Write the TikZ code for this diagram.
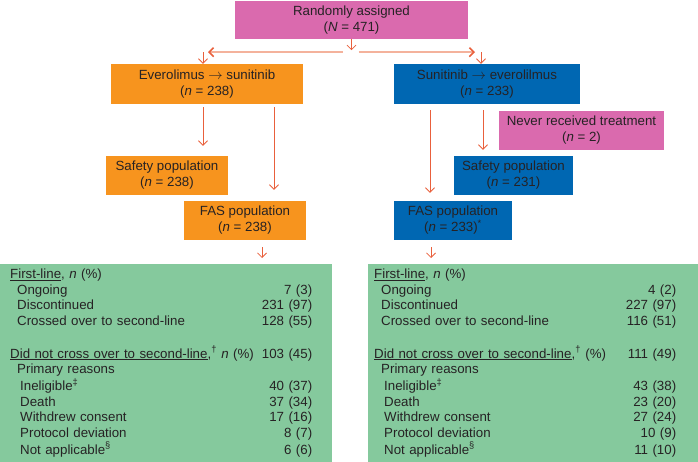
\documentclass[tikz,border=0pt]{standalone}
\usepackage{fontspec}
\setmainfont{Liberation Sans}
\usepackage{tikz}
\usetikzlibrary{arrows.meta, positioning}
\definecolor{randpink}{RGB}{218,106,174}
\definecolor{armorange}{RGB}{247,148,30}
\definecolor{armblue}{RGB}{0,103,178}
\definecolor{tallygreen}{RGB}{133,201,157}
\definecolor{flowred}{RGB}{233,96,60}
\definecolor{splitred}{RGB}{244,178,156}
\definecolor{ink}{RGB}{38,34,36}
\tikzset{
  ->,
  >={Straight Barb[length=4.5pt,width=9pt]},
  every node/.style={font=\fontsize{13.3}{16}\selectfont, text=ink},
  box/.style={rectangle, inner sep=0pt, minimum height=39pt, align=center},
  tally/.style={rectangle, fill=tallygreen, anchor=north west, minimum height=198pt,
    inner ysep=0pt, align=left, font=\fontsize{13.3}{15.7}\selectfont},
  flow/.style={draw=flowred, line width=0.8pt, -, every edge/.append style={->}},
  split/.style={draw=splitred, line width=1.6pt,
    >={Straight Barb[length=4.5pt,width=9pt,color=flowred]}},
}

\begin{document}
\begin{tikzpicture}[x=1pt,y=-1pt]
      \path[use as bounding box,-] (0,0) rectangle (698,462);

      \node[box,fill=randpink,minimum width=233pt,minimum height=38pt] (rand)  at (351.5,20)  {Randomly assigned\\(\textit{N} = 471)};
      \node[box,fill=armorange,minimum width=192pt,minimum height=40pt] (evs)  at (207,84)    {Everolimus $\rightarrow$ sunitinib\\(\textit{n} = 238)};
      \node[box,fill=armblue,minimum width=186pt,minimum height=40pt]   (sev)  at (487,84)    {Sunitinib $\rightarrow$ everolilmus\\(\textit{n} = 233)};
      \node[box,fill=randpink,minimum width=165pt]                      (never) at (581.5,130.5) {Never received treatment\\(\textit{n} = 2)};
      \node[box,fill=armorange,minimum width=122pt]                     (safl) at (167,175.5)   {Safety population\\(\textit{n} = 238)};
      \node[box,fill=armorange,minimum width=122pt]                     (fasl) at (245,220.5)   {FAS population\\(\textit{n} = 238)};
      \node[box,fill=armblue,minimum width=119pt]                       (safr) at (513.5,175.5) {Safety population\\(\textit{n} = 231)};
      \node[box,fill=armblue,minimum width=118pt]                       (fasr) at (453,220.5)   {FAS population\\(\textit{n} = 233)\textsuperscript{*}};

      % everolimus first
      \node[tally,text width=312pt,inner xsep=10pt,minimum width=332pt] (tallyl) at (0,264) {\noindent
        \begin{tabular*}{302pt}{@{}l@{\extracolsep{\fill}}r@{}}
          \underline{First-line}, \textit{n} (\%) & \\
          \hspace*{7pt}Ongoing & 7 (3)\\
          \hspace*{7pt}Discontinued & 231 (97)\\
          \hspace*{7pt}Crossed over to second-line & 128 (55)\\
          & \\
          \underline{Did not cross over to second-line},\textsuperscript{†} \textit{n} (\%) & 103 (45)\\
          \hspace*{7pt}Primary reasons & \\
          \hspace*{10pt}Ineligible\textsuperscript{‡} & 40 (37)\\
          \hspace*{10pt}Death & 37 (34)\\
          \hspace*{10pt}Withdrew consent & 17 (16)\\
          \hspace*{10pt}Protocol deviation & 8 (7)\\
          \hspace*{10pt}Not applicable\textsuperscript{§} & 6 (6)
        \end{tabular*}};

      % sunitinib first
      \node[tally,text width=318pt,inner xsep=6pt,minimum width=330pt] (tallyr) at (368,264) {\noindent
        \begin{tabular*}{302pt}{@{}l@{\extracolsep{\fill}}r@{}}
          \underline{First-line}, \textit{n} (\%) & \\
          \hspace*{7pt}Ongoing & 4 (2)\\
          \hspace*{7pt}Discontinued & 227 (97)\\
          \hspace*{7pt}Crossed over to second-line & 116 (51)\\
          & \\
          \underline{Did not cross over to second-line},\textsuperscript{†} (\%) & 111 (49)\\
          \hspace*{7pt}Primary reasons & \\
          \hspace*{10pt}Ineligible\textsuperscript{‡} & 43 (38)\\
          \hspace*{10pt}Death & 23 (20)\\
          \hspace*{10pt}Withdrew consent & 27 (24)\\
          \hspace*{10pt}Protocol deviation & 10 (9)\\
          \hspace*{10pt}Not applicable\textsuperscript{§} & 11 (10)
        \end{tabular*}};

      \coordinate (split)  at ([yshift=-13pt]rand.south);
      \coordinate (lsplit) at ([xshift=1pt]evs.north |- split);
      \coordinate (rsplit) at ([xshift=-12pt]sev.north |- split);

      \draw[split] ([xshift=-9pt]split) -- (lsplit);
      \draw[split] ([xshift=7pt]split)  -- (rsplit);

      \draw[flow] (rand.south) edge[shorten >=2pt] (split)
            ([xshift=-4pt]evs.north |- split) edge ([xshift=-4pt]evs.north)
            ([xshift=-6pt]sev.north |- split) edge ([xshift=-6pt]sev.north)
            ([xshift=-4pt,yshift=-3pt]evs.south)  edge[shorten >=10pt] ([xshift=-4pt]evs.south |- safl.north)
            ([xshift=67pt,yshift=-3pt]evs.south)  edge[shorten >=11pt] ([xshift=67pt]evs.south |- fasl.north)
            ([xshift=-57pt,yshift=-6pt]sev.south) edge[shorten >=8pt]  ([xshift=-57pt]sev.south |- fasr.north)
            ([xshift=-4pt,yshift=-6pt]sev.south)  edge[shorten >=6pt]  ([xshift=-4pt]sev.south |- safr.north)
            ([xshift=17pt,yshift=-7pt]fasl.south) edge[shorten >=6pt]  ([xshift=17pt]fasl.south |- tallyl.north)
            ([xshift=-22pt,yshift=-7pt]fasr.south) edge[shorten >=6pt] ([xshift=-22pt]fasr.south |- tallyr.north);
\end{tikzpicture}
\end{document}
